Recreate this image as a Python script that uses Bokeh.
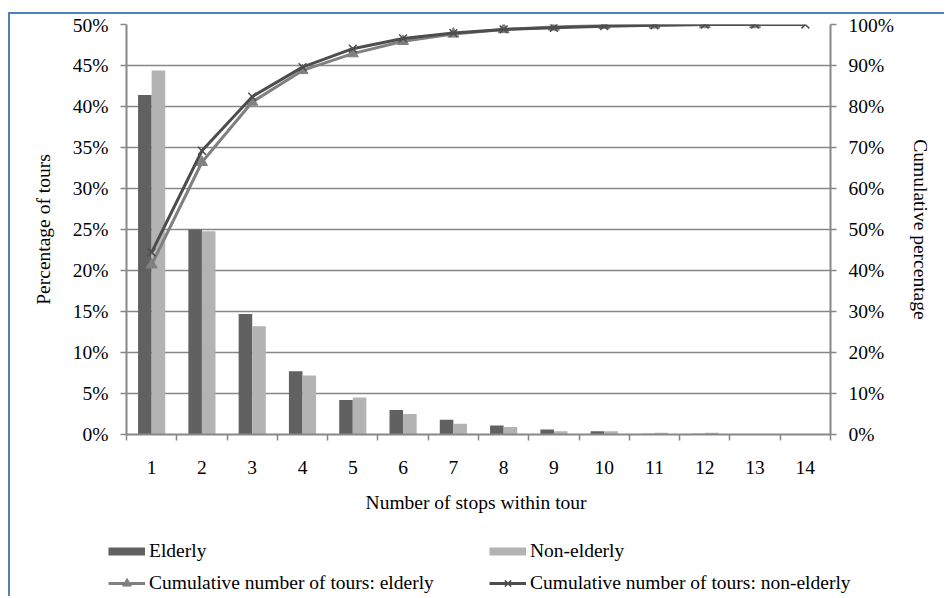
from bokeh.plotting import figure
from bokeh.layouts import column
from bokeh.models import (ColumnDataSource, Range1d, LinearAxis, FixedTicker,
                          PrintfTickFormatter, Legend, LegendItem)
from bokeh.transform import dodge
from bokeh.embed import file_html
from bokeh.resources import INLINE

# Share of tours by number of stops (percent)
stops = [1, 2, 3, 4, 5, 6, 7, 8, 9, 10, 11, 12, 13, 14]
elderly_share = [41.4, 25.0, 14.7, 7.7, 4.2, 3.0, 1.8, 1.1, 0.6, 0.4, 0.1, 0.1, 0.05]
non_elderly_share = [44.4, 24.8, 13.2, 7.2, 4.5, 2.5, 1.3, 0.9, 0.4, 0.4, 0.2, 0.2, 0.05, 0.03]

# Cumulative share of tours (percent)
elderly_cum = [41.4, 66.4, 81.1, 88.8, 92.9, 95.9, 97.7, 98.8, 99.4, 99.8, 99.9, 100.0, 100.0]
non_elderly_cum = [44.4, 69.2, 82.4, 89.6, 94.1, 96.6, 97.9, 98.8, 99.2, 99.6, 99.8, 100.0, 100.0, 100.0]

left_ticks = [0, 5, 10, 15, 20, 25, 30, 35, 40, 45, 50]
right_ticks = [0, 10, 20, 30, 40, 50, 60, 70, 80, 90, 100]
category_edges = [0.5, 1.5, 2.5, 3.5, 4.5, 5.5, 6.5, 7.5, 8.5, 9.5, 10.5, 11.5, 12.5, 13.5, 14.5]

FONT = "Liberation Serif"
FS = "19.5px"
GREY = "#878787"
BLUE = "#4f81bd"
ELD_BAR = "#616161"
NON_BAR = "#b3b3b3"
ELD_LINE = "#808080"
NON_LINE = "#4d4d4d"

eld_src = ColumnDataSource(dict(x=stops[:len(elderly_share)], y=elderly_share))
non_src = ColumnDataSource(dict(x=stops, y=non_elderly_share))
eld_cum_src = ColumnDataSource(dict(x=stops[:len(elderly_cum)], y=elderly_cum))
non_cum_src = ColumnDataSource(dict(x=stops, y=non_elderly_cum))

# main chart; the chart area has a thin blue border on its left and top edges
p = figure(width=936, height=508, x_range=Range1d(0.5, 14.5), y_range=Range1d(0, 50),
           output_backend="svg", toolbar_location=None,
           min_border_left=116, min_border_right=116, min_border_top=10, min_border_bottom=88,
           outline_line_color=None, background_fill_color="white", border_fill_color="white",
           margin=(12, 0, 0, 8), frame_align=False,
           styles={"border-left": f"2px solid {BLUE}", "border-top": f"2px solid {BLUE}"})
p.extra_y_ranges = {"cum": Range1d(0, 100)}

# gridlines follow the left axis ticks
p.xgrid.visible = False
p.ygrid.ticker = FixedTicker(ticks=left_ticks)
p.ygrid.grid_line_color = GREY
p.ygrid.grid_line_width = 1.5

# bars
p.vbar(x=dodge("x", -0.135, range=p.x_range), top="y", width=0.27, source=eld_src,
       fill_color=ELD_BAR, line_color=None)
p.vbar(x=dodge("x", 0.135, range=p.x_range), top="y", width=0.27, source=non_src,
       fill_color=NON_BAR, line_color=None)

# cumulative lines on the right axis
p.line("x", "y", source=eld_cum_src, y_range_name="cum", line_color=ELD_LINE, line_width=3)
p.scatter("x", "y", source=eld_cum_src, y_range_name="cum", marker="triangle", size=11,
          fill_color=ELD_LINE, line_color=ELD_LINE)
p.line("x", "y", source=non_cum_src, y_range_name="cum", line_color=NON_LINE, line_width=3)
p.scatter("x", "y", source=non_cum_src, y_range_name="cum", marker="x", size=11,
          line_color=NON_LINE, line_width=1.5)


def style_axis(ax):
    ax.axis_line_color = GREY
    ax.axis_line_width = 2
    ax.major_tick_line_color = GREY
    ax.major_tick_line_width = 1.5
    ax.minor_tick_line_color = None
    ax.major_label_text_font = FONT
    ax.major_label_text_font_size = FS
    ax.major_label_text_color = "black"
    ax.axis_label_text_font = FONT
    ax.axis_label_text_font_size = FS
    ax.axis_label_text_font_style = "normal"
    ax.axis_label_text_color = "black"


ya = p.yaxis[0]
style_axis(ya)
ya.ticker = FixedTicker(ticks=left_ticks)
ya.formatter = PrintfTickFormatter(format="%d%%")
ya.major_tick_out = 6
ya.major_tick_in = 0
ya.major_label_standoff = 12
ya.axis_label = "Percentage of tours"
ya.axis_label_standoff = 16

ra = LinearAxis(y_range_name="cum")
style_axis(ra)
ra.ticker = FixedTicker(ticks=right_ticks)
ra.formatter = PrintfTickFormatter(format="%d%%")
ra.major_tick_out = 6
ra.major_tick_in = 0
ra.major_label_standoff = 12
ra.axis_label = "Cumulative percentage"
ra.axis_label_standoff = 13
p.add_layout(ra, "right")

xa = p.xaxis[0]
style_axis(xa)
xa.ticker = FixedTicker(ticks=stops, minor_ticks=category_edges)
xa.major_tick_out = 0
xa.major_tick_in = 0
xa.minor_tick_line_color = GREY
xa.minor_tick_line_width = 1.5
xa.minor_tick_out = 6
xa.minor_tick_in = 0
xa.major_label_standoff = 20
xa.axis_label = "Number of stops within  tour"
xa.axis_label_standoff = 15

# legend strip below the chart
lp = figure(width=936, height=76, x_range=Range1d(0, 1), y_range=Range1d(0, 1),
            output_backend="svg", toolbar_location=None,
            x_axis_location=None, y_axis_location=None, min_border=0, frame_align=False,
            outline_line_color=None, background_fill_color="white", border_fill_color="white",
            margin=(0, 0, 0, 8), styles={"border-left": f"2px solid {BLUE}"})
lp.grid.visible = False
nan = [float("nan")]
sw_eld = lp.line(x=nan, y=nan, line_color=ELD_BAR, line_width=8)
sw_non = lp.line(x=nan, y=nan, line_color=NON_BAR, line_width=8)
lg_eld = lp.line(x=nan, y=nan, line_color=ELD_LINE, line_width=3)
mk_eld = lp.scatter(x=nan, y=nan, marker="triangle", size=11, fill_color=ELD_LINE, line_color=ELD_LINE)
lg_non = lp.line(x=nan, y=nan, line_color=NON_LINE, line_width=3)
mk_non = lp.scatter(x=nan, y=nan, marker="x", size=11, line_color=NON_LINE, line_width=1.5)

legend = Legend(items=[
    LegendItem(label="Elderly", renderers=[sw_eld]),
    LegendItem(label="Non-elderly", renderers=[sw_non]),
    LegendItem(label="Cumulative number of tours: elderly", renderers=[lg_eld, mk_eld]),
    LegendItem(label="Cumulative number of tours: non-elderly", renderers=[lg_non, mk_non]),
], orientation="horizontal", ncols=2, location=(98, 2), padding=0, margin=0,
    spacing=10, label_standoff=4, label_width=330, label_height=22,
    glyph_width=37, glyph_height=22, border_line_color=None, background_fill_alpha=0,
    label_text_font=FONT, label_text_font_size=FS, label_text_color="black")
lp.add_layout(legend)

layout = column(p, lp, spacing=0)
open("out.html", "w").write(file_html(layout, INLINE))
